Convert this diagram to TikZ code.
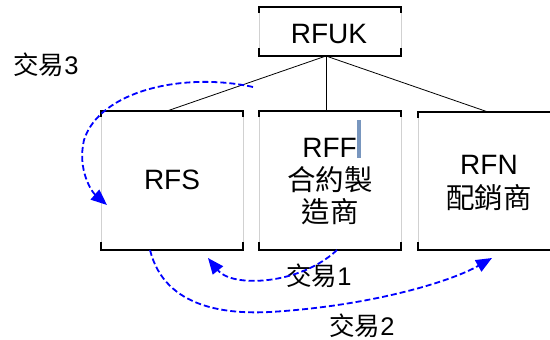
\documentclass[tikz,border=0pt]{standalone}
\usepackage{fontspec}
\setmainfont{Liberation Sans}
\newfontfamily\cjk{Noto Sans CJK TC}
\usetikzlibrary{arrows.meta}
\definecolor{caret}{RGB}{120,150,190}
\tikzset{
 box/.style={draw=black!18, line width=0.8pt, inner sep=0pt, outer sep=0pt},
 rim/.style={draw=black, line width=1.2pt},
 link/.style={draw=black, line width=0.8pt},
 deal/.style={draw=blue, line width=1.8pt, dash pattern=on 6pt off 3pt, -{Triangle[length=16pt,width=13pt]}},
 latin/.style={font=\fontsize{28}{28}\selectfont, inner sep=0pt},
 han/.style={font=\fontsize{28.5}{28.5}\selectfont\cjk, inner sep=0pt},
 lab/.style={font=\fontsize{25.5}{25.5}\selectfont, inner sep=0pt},
}
\newcommand\boxrim[1]{%
 \draw[rim] ([yshift=-6pt]#1.north west) -- (#1.north west) -- (#1.north east) -- ([yshift=-6pt]#1.north east);
 \draw[rim] ([yshift=8pt]#1.south west) -- (#1.south west) -- (#1.south east) -- ([yshift=8pt]#1.south east);
}
\begin{document}
\begin{tikzpicture}[x=1pt,y=-1pt]
\useasboundingbox (0,0) rectangle (550,340);
\clip (0,0) rectangle (550,340);
% boxes
\node[box, minimum width=142pt, minimum height=49pt] (rfuk) at (330,31.5) {};
\node[box, minimum width=142pt, minimum height=139pt] (rfs) at (172,180.5) {};
\node[box, minimum width=142pt, minimum height=139pt] (rff) at (330,180.5) {};
\node[box, minimum width=142pt, minimum height=138pt] (rfn) at (489,181) {};
\boxrim{rfuk}
\boxrim{rfs}
\boxrim{rff}
\boxrim{rfn}
% tree links
\coordinate (hub) at (326,56);
\coordinate (sTop) at (167,111);
\coordinate (fTop) at (326,111);
\coordinate (nTop) at (488,112);
\draw[link] (hub) -- (sTop);
\draw[link] (hub) -- (fTop);
\draw[link] (hub) -- (nTop);
% texts
\node[latin] (tUK) at (329,34) {RFUK};
\node[latin] (tS) at (172,180) {RFS};
\node[latin] (tF) at (329.5,148) {RFF};
\node[han] (tF2) at (330,180) {合約製};
\node[han] (tF3) at (330,212) {造商};
\node[latin] (tN) at (489,165) {RFN};
\node[han] (tN2) at (489,198) {配銷商};
\node[fill=caret, inner sep=0pt, minimum width=4pt, minimum height=38pt] (cursor) at (359,139) {};
% deal labels
\node[lab] (l3) at (46,65) {{\cjk 交易}3};
\node[lab] (l1) at (319,276) {{\cjk 交易}1};
\node[lab] (l2) at (362,326) {{\cjk 交易}2};
% deal arrows
\coordinate (a3s) at (253,87);
\coordinate (a3e) at (107,205);
\draw[deal] (a3s) .. controls (185,72) and (100,90) .. (84,140) .. controls (77,170) and (92,192) .. (a3e);
\coordinate (a1s) at (337,250);
\coordinate (a1e) at (208,258);
\draw[deal] (a1s) .. controls (300,285) and (232,288) .. (a1e);
\coordinate (a2s) at (150,250);
\coordinate (a2e) at (492,258);
\draw[deal] (a2s) .. controls (165,310) and (230,314) .. (270,312) .. controls (370,306) and (450,282) .. (a2e);
\end{tikzpicture}
\end{document}
